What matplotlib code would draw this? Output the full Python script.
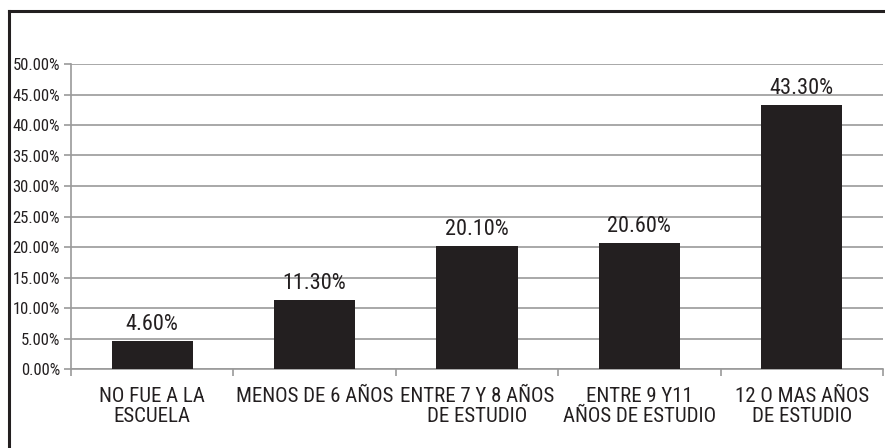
import numpy as np
import matplotlib
matplotlib.use("Agg")
import matplotlib.pyplot as plt
from matplotlib.lines import Line2D
from matplotlib.ticker import MultipleLocator, FuncFormatter

categories = ["NO FUE A LA\nESCUELA", "MENOS DE 6 AÑOS", "ENTRE 7 Y 8 AÑOS\nDE ESTUDIO",
              "ENTRE 9 Y11\nAÑOS DE ESTUDIO", "12 O MAS AÑOS\nDE ESTUDIO"]
values = [4.60, 11.30, 20.10, 20.60, 43.30]

plt.rcParams['font.family'] = ['Roboto Condensed', 'Liberation Sans Narrow', 'Liberation Sans', 'DejaVu Sans']
INK = "#231f20"
GRID = "#9a9a9a"

W, H = 885, 448
fig = plt.figure(figsize=(W/100, H/100), dpi=100, facecolor="white")
ax = fig.add_axes([71/W, 1-369/H, (883-71)/W, (369-64)/H])

x = np.arange(len(categories))
ax.bar(x, values, width=0.5, color=INK, zorder=3)
for xi, v in zip(x, values):
    ax.text(xi, v + 1.8, f"{v:.2f}%", ha="center", va="baseline", fontsize=16, color=INK)

ax.set_xlim(-0.5, len(categories) - 0.5)
ax.set_ylim(0, 50)
ax.yaxis.set_major_locator(MultipleLocator(5))
ax.yaxis.set_major_formatter(FuncFormatter(lambda v, p: f"{v:.2f}%"))
ax.grid(axis="y", color=GRID, lw=1.2, zorder=0)

ax.set_xticks(x)
ax.set_xticklabels(categories, fontsize=15, color=INK, linespacing=1.05)
ax.set_xticks(np.arange(len(categories) + 1) - 0.5, minor=True)
ax.tick_params(axis="x", which="major", length=0, pad=13)
ax.tick_params(axis="x", which="minor", length=5, color=GRID, width=1.2)
ax.tick_params(axis="y", length=5, color=GRID, width=1.2, labelsize=12, labelcolor=INK, pad=3)

for s in ["top", "right"]:
    ax.spines[s].set_visible(False)
for s in ["left", "bottom"]:
    ax.spines[s].set_color(GRID)
    ax.spines[s].set_linewidth(1.2)

# outer chart frame (only top and left edges visible)
fig.add_artist(Line2D([9/W, 1], [1-11/H, 1-11/H], color=INK, lw=2.2))
fig.add_artist(Line2D([9/W, 9/W], [0, 1-11/H], color=INK, lw=2.2))

fig.savefig("out.png", dpi=100)
